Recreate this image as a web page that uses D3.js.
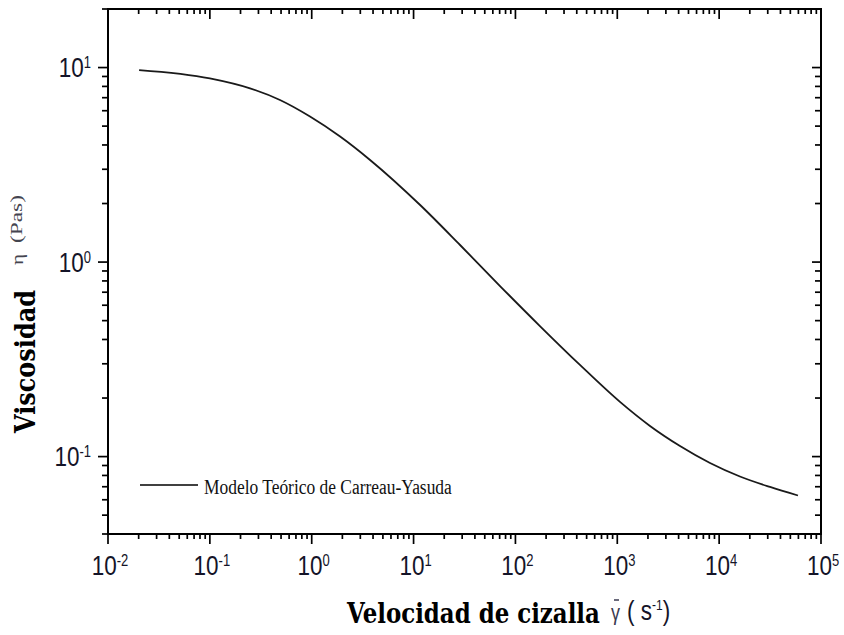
<!DOCTYPE html>
<html>
<head>
<meta charset="utf-8">
<script src="https://cdn.jsdelivr.net/npm/d3@7"></script>
<style>
  body { margin: 0; background: #fff; }
  svg { display: block; }
</style>
</head>
<body>
<svg id="chart" width="844" height="635"></svg>
<script>
// shear rate (1/s) and viscosity (Pa s)
let shearRate = [0.0202, 0.1, 0.248, 0.488, 0.962, 1.90, 3.74, 11.6, 28.6, 70.6, 174, 430, 1063, 2095, 4128, 8134, 16000, 31600, 59400];
let viscosity = [9.71, 8.80, 7.82, 6.81, 5.60, 4.42, 3.35, 1.965, 1.224, 0.753, 0.469, 0.296, 0.191, 0.1437, 0.1133, 0.0927, 0.0790, 0.0698, 0.0631];

let xMajor = [-2, -1, 0, 1, 2, 3, 4, 5];
let yMajor = [-1, 0, 1];
let xDomain = [0.01, 1e5];
let yDomain = [0.04, 20];

let legendLabel = "Modelo Teórico de Carreau-Yasuda";

let svg = d3.select("#chart");
let margin = { left: 108, right: 821, top: 9, bottom: 534 };
let stretch = 1.25; // text in the original is a bit taller than wide

let x = d3.scaleLog().domain(xDomain).range([margin.left, margin.right]);
let y = d3.scaleLog().domain(yDomain).range([margin.bottom, margin.top]);

// minor ticks: 2..9 inside every decade of the domain
function minorTicks(domain) {
    let out = [];
    let lo = Math.floor(Math.log10(domain[0])), hi = Math.ceil(Math.log10(domain[1]));
    for (let e = lo; e < hi; e++) {
        for (let m = 2; m <= 9; m++) {
            let v = m * Math.pow(10, e);
            if (v >= domain[0] - 1e-12 && v <= domain[1] + 1e-9) out.push(v);
        }
    }
    return out;
}
let xMinor = minorTicks(xDomain);
let yMinor = minorTicks(yDomain);
let xMajorV = xMajor.map(e => Math.pow(10, e));
let yMajorV = yMajor.map(e => Math.pow(10, e));

// tick marks; len > 0 points down / right, < 0 up / left
function xTicks(values, y0, len) {
    svg.append("g").selectAll("line")
        .data(values).enter().append("line")
        .attr("x1", d => x(d)).attr("x2", d => x(d))
        .attr("y1", y0).attr("y2", y0 + len)
        .attr("stroke", "#000").attr("stroke-width", 1.7);
}
function yTicks(values, x0, len) {
    svg.append("g").selectAll("line")
        .data(values).enter().append("line")
        .attr("y1", d => y(d)).attr("y2", d => y(d))
        .attr("x1", x0).attr("x2", x0 + len)
        .attr("stroke", "#000").attr("stroke-width", 1.7);
}
xTicks(xMajorV, margin.bottom, 10);
xTicks(xMinor, margin.bottom, 5);
xTicks(xMajorV, margin.top, 10);
xTicks(xMinor, margin.top, 5);
yTicks(yMajorV, margin.left, -10);
yTicks(yMinor, margin.left, -6);
yTicks(yMajorV, margin.right, -9);
yTicks(yMinor, margin.right, -6);

// frame
svg.append("rect")
    .attr("x", margin.left).attr("y", margin.top)
    .attr("width", margin.right - margin.left)
    .attr("height", margin.bottom - margin.top)
    .attr("fill", "none").attr("stroke", "#000").attr("stroke-width", 2);

// power-of-ten labels
function powerLabel(px, py, exp, anchor) {
    let t = svg.append("text")
        .attr("transform", "translate(" + px + "," + py + ") scale(1," + stretch + ")")
        .attr("text-anchor", anchor)
        .attr("font-family", "Liberation Sans, Arial, sans-serif")
        .attr("font-size", 22.5)
        .attr("fill", "#141428");
    t.append("tspan").text("10");
    t.append("tspan").attr("dy", -7).attr("font-size", 13).text(exp);
}
xMajor.forEach(e => powerLabel(x(Math.pow(10, e)) + 2, 575, e, "middle"));
yMajor.forEach(e => powerLabel(91, y(Math.pow(10, e)) + 9.5, e, "end"));

// curve
let line = d3.line()
    .x((d, i) => x(shearRate[i]))
    .y((d, i) => y(viscosity[i]))
    .curve(d3.curveMonotoneX);
svg.append("path")
    .attr("d", line(shearRate))
    .attr("fill", "none").attr("stroke", "#1a1a1a").attr("stroke-width", 1.8);

// fit a text node to a given length along its baseline
function fitText(node, len) {
    let w = node.node().getComputedTextLength();
    return len / w;
}

// legend
svg.append("line")
    .attr("x1", 140).attr("x2", 198).attr("y1", 485).attr("y2", 485)
    .attr("stroke", "#000").attr("stroke-width", 1.4);
let legText = svg.append("text")
    .attr("font-family", "Liberation Serif, Times New Roman, serif")
    .attr("font-size", 17.5)
    .attr("fill", "#111")
    .text(legendLabel);
legText.attr("transform", "translate(204,494) scale(" + fitText(legText, 248) + "," + stretch + ")");

// x-axis title
let xTitle = svg.append("text")
    .attr("font-family", "DejaVu Serif, serif")
    .attr("font-weight", "bold")
    .attr("font-size", 22)
    .attr("fill", "#000")
    .text("Velocidad de cizalla");
xTitle.attr("transform", "translate(347,623) scale(" + fitText(xTitle, 253) + "," + stretch + ")");

svg.append("text")
    .attr("transform", "translate(611,620) scale(1," + stretch + ")")
    .attr("font-family", "Liberation Sans, Arial, sans-serif")
    .attr("font-size", 18)
    .attr("fill", "#3a3a50")
    .text("γ");
svg.append("line")
    .attr("x1", 614).attr("x2", 619).attr("y1", 600).attr("y2", 600)
    .attr("stroke", "#3a3a50").attr("stroke-width", 1.5);

let unit = svg.append("text")
    .attr("transform", "translate(627,620) scale(1," + stretch + ")")
    .attr("font-family", "Liberation Sans, Arial, sans-serif")
    .attr("font-size", 22.5)
    .attr("fill", "#141428");
unit.append("tspan").text("( s");
unit.append("tspan").attr("dy", -8).attr("font-size", 12).text("-1");
unit.append("tspan").attr("dy", 8).text(")");

// y-axis title
let yTitle = svg.append("text")
    .attr("font-family", "DejaVu Serif, serif")
    .attr("font-weight", "bold")
    .attr("font-size", 22)
    .attr("fill", "#000")
    .text("Viscosidad");
yTitle.attr("transform", "translate(35,433) rotate(-90) scale(" + fitText(yTitle, 143) + "," + stretch + ")");

svg.append("text")
    .attr("transform", "translate(23,265) rotate(-90) scale(1.25,1)")
    .attr("font-family", "Liberation Serif, Times New Roman, serif")
    .attr("font-size", 17)
    .attr("fill", "#44444f")
    .text("η");
let pas = svg.append("text")
    .attr("font-family", "Liberation Serif, Times New Roman, serif")
    .attr("font-size", 17)
    .attr("fill", "#44444f")
    .text("(Pas)");
pas.attr("transform", "translate(22,243) rotate(-90) scale(" + fitText(pas, 48) + ",1)");
</script>
</body>
</html>
